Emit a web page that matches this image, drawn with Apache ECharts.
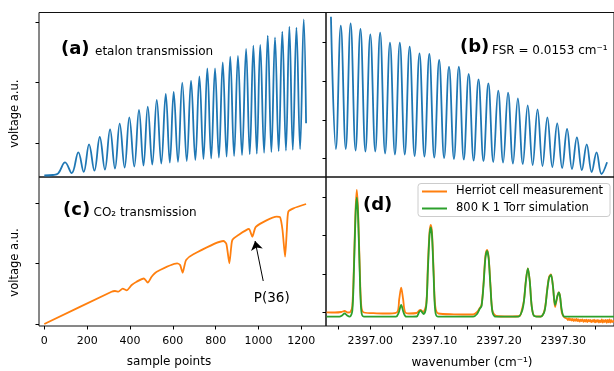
<!DOCTYPE html>
<html>
<head>
<meta charset="utf-8">
<script src="https://cdn.jsdelivr.net/npm/echarts@6/dist/echarts.min.js"></script>
<style>
  html, body { margin: 0; padding: 0; background: #fff; }
  #chart { width: 614px; height: 371px; }
</style>
</head>
<body>
<div id="chart"></div>
<script>
// (a) etalon transmission vs sample index: peaks and troughs
const etalonA = [
  [0, 0.015], [40, 0.02], [65, 0.037], [97, 0.147], [128, 0.039], [159, 0.247], [184, 0.051],
  [209, 0.327], [234, 0.063], [259, 0.40], [283, 0.074], [307, 0.477], [330, 0.085], [352, 0.533],
  [375, 0.095], [397, 0.597], [420, 0.105], [442, 0.67], [463, 0.115], [483, 0.703], [504, 0.124],
  [525, 0.77], [546, 0.133], [567, 0.83], [586, 0.143], [604, 0.85], [624, 0.151], [644, 0.943],
  [665, 0.16], [685, 0.963], [705, 0.17], [724, 1.007], [743, 0.178], [761, 1.087], [779, 0.186],
  [797, 1.087], [815, 0.194], [833, 1.147], [851, 0.203], [868, 1.203], [886, 0.21], [904, 1.21],
  [923, 0.219], [942, 1.28], [959, 0.227], [976, 1.313], [992, 0.234], [1008, 1.32], [1026, 0.242],
  [1043, 1.413], [1060, 0.25], [1077, 1.397], [1094, 0.258], [1111, 1.453], [1128, 0.265],
  [1144, 1.503], [1160, 0.272], [1177, 1.493], [1194, 0.28], [1211, 1.577], [1222, 0.537]
]

// (b) etalon transmission on the wavenumber axis
const etalonB = [
  [2396.9388, 1.603], [2396.9465, 0.28], [2396.9541, 1.513], [2396.9618, 0.28],
  [2396.9694, 1.537], [2396.9771, 0.265], [2396.9847, 1.48], [2396.9924, 0.255],
  [2397.0000, 1.427], [2397.0077, 0.255], [2397.0153, 1.443], [2397.0230, 0.235],
  [2397.0306, 1.343], [2397.0383, 0.225], [2397.0459, 1.343], [2397.0536, 0.225],
  [2397.0612, 1.303], [2397.0689, 0.21], [2397.0765, 1.237], [2397.0842, 0.205],
  [2397.0918, 1.23], [2397.0995, 0.195], [2397.1071, 1.17], [2397.1148, 0.19],
  [2397.1224, 1.103], [2397.1301, 0.18], [2397.1377, 1.103], [2397.1454, 0.175],
  [2397.1530, 1.03], [2397.1607, 0.165], [2397.1683, 0.977], [2397.1760, 0.16],
  [2397.1836, 0.937], [2397.1913, 0.15], [2397.1989, 0.863], [2397.2066, 0.145],
  [2397.2142, 0.843], [2397.2219, 0.135], [2397.2295, 0.787], [2397.2372, 0.13],
  [2397.2448, 0.717], [2397.2525, 0.12], [2397.2601, 0.677], [2397.2678, 0.11],
  [2397.2754, 0.597], [2397.2831, 0.10], [2397.2907, 0.537], [2397.2984, 0.09],
  [2397.3060, 0.48], [2397.3137, 0.08], [2397.3213, 0.397], [2397.3290, 0.07],
  [2397.3366, 0.327], [2397.3443, 0.05], [2397.3519, 0.247], [2397.3596, 0.03],
  [2397.3682, 0.147]
]

// (c) CO2 transmission vs sample index
const co2Trans = [
  [0, 0.02], [314, 0.343], [330, 0.35], [346, 0.343], [366, 0.373], [385, 0.357], [408, 0.41],
  [431, 0.443], [465, 0.475], [483, 0.433], [501, 0.493], [525, 0.543], [620, 0.627], [634, 0.61],
  [646, 0.533], [654, 0.6], [662, 0.66], [696, 0.717], [836, 0.85], [850, 0.82], [864, 0.627],
  [872, 0.78], [878, 0.86], [906, 0.91], [955, 0.97], [971, 0.893], [988, 0.993], [1085, 1.093],
  [1100, 1.09], [1112, 0.96], [1124, 0.693], [1132, 0.95], [1139, 1.143], [1163, 1.177], [1222, 1.22]
]

// (d) measured spectrum and simulation
const herriot = [
  [2396.932, 0.137], [2396.945, 0.135], [2396.955, 0.14], [2396.960, 0.15], [2396.965, 0.135],
  [2396.969, 0.14], [2396.972, 0.2], [2396.9745, 0.6], [2396.977, 1.15], [2396.979, 1.36],
  [2396.981, 1.15], [2396.9835, 0.6], [2396.986, 0.2], [2396.990, 0.135], [2397.010, 0.127],
  [2397.030, 0.125], [2397.042, 0.14], [2397.045, 0.27], [2397.048, 0.383], [2397.051, 0.27],
  [2397.054, 0.14], [2397.060, 0.125], [2397.072, 0.13], [2397.076, 0.155], [2397.078, 0.16],
  [2397.082, 0.14], [2397.087, 0.22], [2397.0895, 0.6], [2397.092, 0.93], [2397.094, 1.01],
  [2397.096, 0.93], [2397.0985, 0.55], [2397.101, 0.2], [2397.106, 0.125], [2397.130, 0.117],
  [2397.160, 0.115], [2397.166, 0.14], [2397.170, 0.177], [2397.173, 0.21], [2397.176, 0.42],
  [2397.179, 0.7], [2397.1816, 0.76], [2397.184, 0.69], [2397.187, 0.4], [2397.190, 0.15],
  [2397.196, 0.1], [2397.215, 0.095], [2397.232, 0.1], [2397.236, 0.17], [2397.239, 0.26],
  [2397.242, 0.46], [2397.245, 0.577], [2397.248, 0.45], [2397.251, 0.2], [2397.255, 0.1],
  [2397.265, 0.095], [2397.271, 0.16], [2397.275, 0.36], [2397.278, 0.49], [2397.281, 0.517],
  [2397.284, 0.4], [2397.2874, 0.19], [2397.291, 0.3], [2397.293, 0.337], [2397.295, 0.3],
  [2397.298, 0.13], [2397.302, 0.085], [2397.306, 0.072], [2397.3075, 0.06], [2397.309, 0.075],
  [2397.3105, 0.058], [2397.312, 0.07], [2397.3135, 0.055], [2397.315, 0.072], [2397.3165, 0.05],
  [2397.318, 0.068], [2397.3195, 0.052], [2397.321, 0.07], [2397.3225, 0.048], [2397.324, 0.066],
  [2397.3255, 0.045], [2397.327, 0.064], [2397.3285, 0.05], [2397.330, 0.066], [2397.3315, 0.042],
  [2397.333, 0.062], [2397.3345, 0.045], [2397.336, 0.064], [2397.3375, 0.04], [2397.339, 0.06],
  [2397.3405, 0.046], [2397.342, 0.062], [2397.3435, 0.038], [2397.345, 0.058], [2397.3465, 0.042],
  [2397.348, 0.064], [2397.3495, 0.036], [2397.351, 0.058], [2397.3525, 0.04], [2397.354, 0.062],
  [2397.3555, 0.035], [2397.357, 0.056], [2397.3585, 0.038], [2397.360, 0.065], [2397.3615, 0.034],
  [2397.363, 0.058], [2397.3645, 0.04], [2397.366, 0.062], [2397.3675, 0.032], [2397.369, 0.06],
  [2397.3705, 0.036], [2397.372, 0.066], [2397.3735, 0.034], [2397.375, 0.058], [2397.3765, 0.04],
  [2397.379, 0.055]
]
const simulation = [
  [2396.932, 0.093], [2396.952, 0.093], [2396.957, 0.11], [2396.960, 0.127], [2396.964, 0.105],
  [2396.968, 0.093], [2396.972, 0.15], [2396.9745, 0.55], [2396.977, 1.1], [2396.979, 1.283],
  [2396.981, 1.1], [2396.9835, 0.55], [2396.986, 0.15], [2396.990, 0.093], [2397.040, 0.093],
  [2397.044, 0.13], [2397.048, 0.21], [2397.052, 0.13], [2397.056, 0.093], [2397.072, 0.095],
  [2397.076, 0.14], [2397.078, 0.153], [2397.083, 0.12], [2397.087, 0.2], [2397.0895, 0.55],
  [2397.092, 0.9], [2397.094, 0.987], [2397.096, 0.9], [2397.0985, 0.5], [2397.101, 0.15],
  [2397.105, 0.093], [2397.160, 0.093], [2397.166, 0.12], [2397.170, 0.17], [2397.173, 0.2],
  [2397.176, 0.4], [2397.179, 0.68], [2397.1816, 0.75], [2397.184, 0.68], [2397.187, 0.38],
  [2397.190, 0.14], [2397.195, 0.093], [2397.230, 0.093], [2397.236, 0.15], [2397.239, 0.25],
  [2397.242, 0.45], [2397.245, 0.577], [2397.248, 0.45], [2397.251, 0.2], [2397.255, 0.1],
  [2397.265, 0.093], [2397.271, 0.15], [2397.275, 0.35], [2397.278, 0.48], [2397.281, 0.51],
  [2397.284, 0.4], [2397.2874, 0.21], [2397.291, 0.3], [2397.293, 0.337], [2397.295, 0.3],
  [2397.298, 0.15], [2397.302, 0.093], [2397.379, 0.093]
]

// tick positions
const sampleTicks = [0, 200, 400, 600, 800, 1000, 1200]
const wnTicks = [2396.95, 2397.00, 2397.05, 2397.10, 2397.15, 2397.20, 2397.25, 2397.30, 2397.35]
const wnLabels = [2397.00, 2397.10, 2397.20, 2397.30]
const yTicksA = [0.34, 0.95, 1.55]
const yTicksB = [0.19, 0.57, 0.96, 1.343]
const yTicksC = [0.02, 0.63, 1.23]
const yTicksD = [0.14, 0.52, 0.903, 1.283]

// P(36) annotation (arrow tail, head, label position)
const p36Tail = [1022, 0.45]
const p36Head = [984, 0.85]
const p36Label = [1062, 0.277]

const FONT = 'DejaVu Sans'
const BLUE = '#1f77b4'
const ORANGE = '#ff7f0e'
const GREEN = '#2ca02c'

const sampleRange = [-24.7, 1315]
const wnRange = [2396.9311, 2397.379]

const chart = echarts.init(document.getElementById('chart'))

const gridBox = { show: true, borderColor: '#111', borderWidth: 1, backgroundColor: 'transparent' }

function hiddenX(grid, range) {
  return {
    type: 'value', gridIndex: grid, min: range[0], max: range[1],
    axisLine: { show: false, onZero: false }, axisTick: { show: false },
    axisLabel: { show: false }, splitLine: { show: false }
  }
}

function tickY(grid, max, ticks) {
  return {
    type: 'value', gridIndex: grid, min: 0, max: max,
    axisLine: { show: false, onZero: false },
    axisTick: { show: true, length: 3.5, customValues: ticks, lineStyle: { color: '#000', width: 1 } },
    axisLabel: { show: false }, splitLine: { show: false }
  }
}

function labelledX(grid, range, ticks, labels, fmt) {
  return {
    type: 'value', gridIndex: grid, min: range[0], max: range[1],
    axisLine: { show: false, onZero: false },
    axisTick: { show: true, length: 3.5, customValues: ticks, lineStyle: { color: '#000', width: 1 } },
    axisLabel: {
      show: true, customValues: labels, margin: 10, color: '#000',
      fontFamily: FONT, fontSize: 11, formatter: fmt
    },
    splitLine: { show: false }
  }
}

function text(str, x, y, size, extra) {
  return Object.assign({
    type: 'text', x: x, y: y, silent: true,
    style: {
      text: str, fill: '#000', fontFamily: FONT, fontSize: size,
      textAlign: 'left', textVerticalAlign: 'middle', align: 'left', verticalAlign: 'middle'
    }
  }, extra || {})
}

function boldText(str, x, y) {
  const t = text(str, x, y, 18)
  t.style.fontWeight = 'bold'
  return t
}

function rotText(str, x, y) {
  const t = text(str, x, y, 11.5, { rotation: Math.PI / 2 })
  t.style.textAlign = 'center'
  t.style.align = 'center'
  return t
}

function centerText(str, x, y, size) {
  const t = text(str, x, y, size)
  t.style.textAlign = 'center'
  t.style.align = 'center'
  return t
}

const option = {
  animation: false,
  backgroundColor: '#fff',
  grid: [
    Object.assign({ left: 39, top: 12.5, width: 287, height: 164.5 }, gridBox),
    Object.assign({ left: 326, top: 12.5, width: 292, height: 164.5 }, gridBox),
    Object.assign({ left: 39, top: 177, width: 287, height: 149 }, gridBox),
    Object.assign({ left: 326, top: 177, width: 292, height: 149 }, gridBox)
  ],
  xAxis: [
    hiddenX(0, sampleRange),
    hiddenX(1, wnRange),
    labelledX(2, sampleRange, sampleTicks, sampleTicks, v => String(v)),
    labelledX(3, wnRange, wnTicks, wnLabels, v => Number(v).toFixed(2))
  ],
  yAxis: [
    tickY(0, 1.645, yTicksA),
    tickY(1, 1.645, yTicksB),
    tickY(2, 1.49, yTicksC),
    tickY(3, 1.49, yTicksD)
  ],
  legend: {
    orient: 'vertical',
    left: 418, top: 183.5,
    icon: 'rect', itemWidth: 25, itemHeight: 2, itemGap: 5,
    padding: [2, 7, 2, 4],
    borderColor: '#cccccc', borderWidth: 1, borderRadius: 3,
    backgroundColor: 'rgba(255,255,255,0.8)',
    textStyle: { fontFamily: FONT, fontSize: 11.5, color: '#000', padding: [0, 0, 0, 4] },
    data: ['Herriot cell measurement', '800 K 1 Torr simulation']
  },
  series: [
    {
      type: 'line', xAxisIndex: 0, yAxisIndex: 0, data: etalonA, smooth: 0.4,
      symbol: 'none', lineStyle: { color: BLUE, width: 1.8 }, itemStyle: { color: BLUE }
    },
    {
      type: 'line', xAxisIndex: 1, yAxisIndex: 1, data: etalonB, smooth: 0.4,
      symbol: 'none', lineStyle: { color: BLUE, width: 1.8 }, itemStyle: { color: BLUE }
    },
    {
      type: 'line', xAxisIndex: 2, yAxisIndex: 2, data: co2Trans, smooth: 0.2,
      symbol: 'none', lineStyle: { color: ORANGE, width: 1.8 }, itemStyle: { color: ORANGE },
      markLine: {
        silent: true, symbol: ['none', 'arrow'], symbolSize: 9,
        lineStyle: { color: '#000', width: 1, type: 'solid' },
        label: { show: false },
        data: [[{ coord: p36Tail }, { coord: p36Head }]]
      },
      markPoint: {
        silent: true, symbol: 'circle', symbolSize: 0,
        label: { show: true, formatter: 'P(36)', color: '#000', fontFamily: FONT, fontSize: 13.5 },
        data: [{ coord: p36Label }]
      }
    },
    {
      name: 'Herriot cell measurement',
      type: 'line', xAxisIndex: 3, yAxisIndex: 3, data: herriot, smooth: 0.3,
      symbol: 'none', lineStyle: { color: ORANGE, width: 1.8 }, itemStyle: { color: ORANGE }
    },
    {
      name: '800 K 1 Torr simulation',
      type: 'line', xAxisIndex: 3, yAxisIndex: 3, data: simulation, smooth: 0.3,
      symbol: 'none', lineStyle: { color: GREEN, width: 1.8 }, itemStyle: { color: GREEN }
    }
  ],
  graphic: [
    boldText('(a)', 61, 49),
    text('etalon transmission', 95, 51.5, 12),
    boldText('(b)', 460, 47),
    text('FSR = 0.0153 cm\u207B\u00B9', 492, 51, 12),
    boldText('(c)', 63, 210),
    text('CO\u2082 transmission', 93.5, 212.5, 12),
    boldText('(d)', 363, 205),
    rotText('voltage a.u.', 15, 113.7),
    rotText('voltage a.u.', 15, 262.5),
    centerText('sample points', 169, 362, 12),
    centerText('wavenumber (cm\u207B\u00B9)', 472, 363, 12)
  ]
}

chart.setOption(option)
</script>
</body>
</html>
